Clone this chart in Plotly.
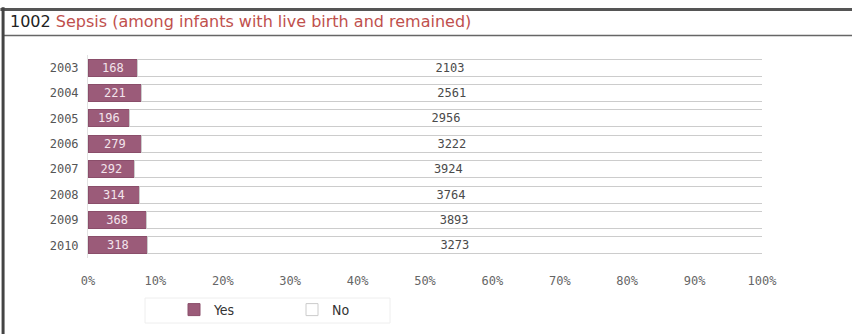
import plotly.graph_objects as go

years = ["2003", "2004", "2005", "2006", "2007", "2008", "2009", "2010"]
yes_counts = [168, 221, 196, 279, 292, 314, 368, 318]
no_counts = [2103, 2561, 2956, 3222, 3924, 3764, 3893, 3273]
x_ticks = [0, 10, 20, 30, 40, 50, 60, 70, 80, 90, 100]
x_tick_labels = [f"{t}%" for t in x_ticks]

totals = [a + b for a, b in zip(yes_counts, no_counts)]
yes_pct = [a / t * 100 for a, t in zip(yes_counts, totals)]
no_pct = [b / t * 100 for b, t in zip(no_counts, totals)]

mono = "DejaVu Sans Mono"

fig = go.Figure()
fig.add_trace(go.Bar(
    name="Yes", y=years, x=yes_pct, orientation="h",
    marker=dict(color="#9b5b79", line=dict(color="#8a4e6a", width=1)),
    text=[str(v) for v in yes_counts], textposition="inside",
    insidetextanchor="middle", constraintext="none",
    textfont=dict(family=mono, size=12, color="#f3e4ec"),
))
fig.add_trace(go.Bar(
    name="No", y=years, x=no_pct, orientation="h",
    marker=dict(color="#ffffff", line=dict(color="#cccccc", width=1)),
    text=[str(v) for v in no_counts], textposition="inside",
    insidetextanchor="middle", constraintext="none",
    textfont=dict(family=mono, size=12, color="#4a4a4a"),
))

fig.update_layout(
    width=852, height=334,
    barmode="stack", bargap=0.33,
    paper_bgcolor="white", plot_bgcolor="white",
    margin=dict(l=88, r=90, t=55, b=76, autoexpand=False),
    showlegend=True,
    legend=dict(
        orientation="h", xref="container", yref="container",
        x=174 / 852, y=1 - 310 / 334, xanchor="left", yanchor="middle",
        bgcolor="rgba(0,0,0,0)", borderwidth=0,
        font=dict(family="Liberation Sans Narrow, DejaVu Sans Condensed, Liberation Sans", size=14, color="#333333"),
        entrywidth=73, itemwidth=30, traceorder="normal",
    ),
    xaxis=dict(
        range=[0, 100], tickvals=x_ticks, ticktext=x_tick_labels,
        showgrid=False, zeroline=False, showline=False,
        ticks="", ticklabelstandoff=14,
        tickfont=dict(family=mono, size=12, color="#666666"),
    ),
    yaxis=dict(
        autorange="reversed", showgrid=False, zeroline=False,
        showline=True, linecolor="#e2e2e2", linewidth=1,
        ticks="", ticklabelstandoff=6,
        tickfont=dict(family=mono, size=12, color="#555555"),
    ),
    shapes=[
        dict(type="line", xref="paper", yref="paper", x0=-0.13, x1=1.14, y0=1.224, y1=1.224,
             line=dict(color="#555555", width=3)),
        dict(type="line", xref="paper", yref="paper", x0=-0.127, x1=1.14, y0=1.096, y1=1.096,
             line=dict(color="#666666", width=1.5)),
        dict(type="line", xref="paper", yref="paper", x0=-0.126, x1=-0.126, y0=1.235, y1=-0.40,
             line=dict(color="#444444", width=3)),
        dict(type="rect", xref="paper", yref="paper",
             x0=(145 - 88) / 674, x1=(390 - 88) / 674,
             y0=(258 - 298) / 203, y1=(258 - 323) / 203,
             line=dict(color="#eeeeee", width=1), layer="below"),
    ],
    annotations=[
        dict(xref="paper", yref="paper", x=-0.1187, y=1.163, xanchor="left", yanchor="middle",
             showarrow=False,
             text="1002 <span style='color:#c0504d'>Sepsis (among infants with live birth and remained)</span>",
             font=dict(family="DejaVu Sans", size=16, color="#222222")),
    ],
)

fig.write_html("out.html", config={"displayModeBar": False},
               post_script="document.body.style.margin='0';")
